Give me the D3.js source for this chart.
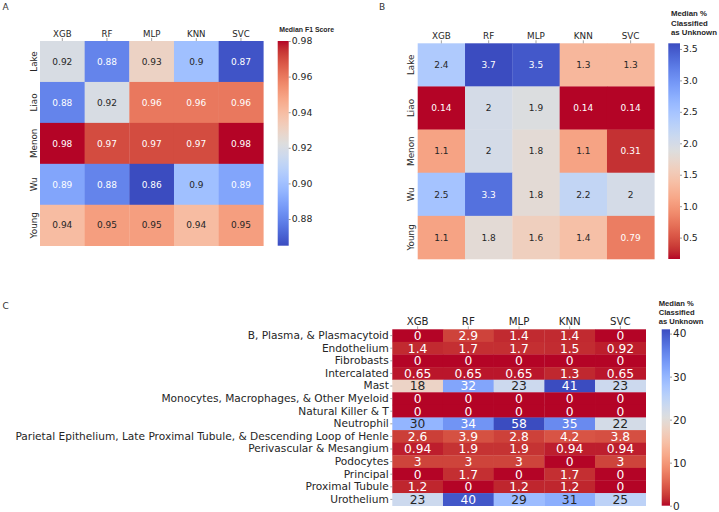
<!DOCTYPE html>
<html><head><meta charset="utf-8">
<script src="https://cdn.jsdelivr.net/npm/d3@7"></script>
<style>
body{margin:0;background:#fff}
svg{display:block;font-family:"DejaVu Sans",sans-serif}
</style>
</head><body>
<script>
// ---------------- DATA ----------------
const models = ["XGB", "RF", "MLP", "KNN", "SVC"];
const datasets = ["Lake", "Liao", "Menon", "Wu", "Young"];

// Panel A: median F1 score (rows = datasets, cols = models)
const f1Lake  = [0.92, 0.88, 0.93, 0.90, 0.867];
const f1Liao  = [0.88, 0.92, 0.96, 0.96, 0.96];
const f1Menon = [0.98, 0.97, 0.97, 0.97, 0.98];
const f1Wu    = [0.89, 0.88, 0.865, 0.90, 0.89];
const f1Young = [0.94, 0.95, 0.95, 0.94, 0.95];
const f1Ticks = [0.88, 0.90, 0.92, 0.94, 0.96, 0.98];

// Panel B: median % classified as unknown, per dataset
const unkLake  = [2.4, 3.7, 3.5, 1.3, 1.3];
const unkLiao  = [0.14, 2, 1.9, 0.14, 0.14];
const unkMenon = [1.1, 2, 1.8, 1.1, 0.31];
const unkWu    = [2.5, 3.3, 1.8, 2.2, 2];
const unkYoung = [1.1, 1.8, 1.6, 1.4, 0.79];
const unkTicks = [0.5, 1.0, 1.5, 2.0, 2.5, 3.0, 3.5];

// Panel C: median % classified as unknown, per cell type
const cellTypes = [
  "B, Plasma, & Plasmacytoid", "Endothelium", "Fibrobasts", "Intercalated", "Mast",
  "Monocytes, Macrophages, & Other Myeloid", "Natural Killer & T", "Neutrophil",
  "Parietal Epithelium, Late Proximal Tubule, & Descending Loop of Henle",
  "Perivascular & Mesangium", "Podocytes", "Principal", "Proximal Tubule", "Urothelium"
];
const ctBPlasma   = [0, 2.9, 1.4, 1.4, 0];
const ctEndo      = [1.4, 1.7, 1.7, 1.5, 0.92];
const ctFibro     = [0, 0, 0, 0, 0];
const ctInterc    = [0.65, 0.65, 0.65, 1.3, 0.65];
const ctMast      = [18, 32, 23, 41, 23];
const ctMono      = [0, 0, 0, 0, 0];
const ctNKT       = [0, 0, 0, 0, 0];
const ctNeutro    = [30, 34, 58, 35, 22];
const ctParietal  = [2.6, 3.9, 2.8, 4.2, 3.8];
const ctPeriv     = [0.94, 1.9, 1.9, 0.94, 0.94];
const ctPodo      = [3, 3, 3, 0, 3];
const ctPrincipal = [0, 1.7, 0, 1.7, 0];
const ctProxTub   = [1.2, 0, 1.2, 1.2, 0];
const ctUro       = [23, 40, 29, 31, 25];
const ctTicks = [0, 10, 20, 30, 40];

// coolwarm colormap control points (Moreland)
const coolwarmStops = [
 [59,76,192],[68,90,204],[77,104,215],[87,117,225],[98,130,234],[108,142,241],[119,154,247],
 [130,165,251],[141,176,254],[152,185,255],[163,194,255],[174,201,253],[184,208,249],[194,213,244],
 [204,217,238],[213,219,230],[221,221,221],[229,216,209],[236,211,197],[241,204,185],[245,196,173],
 [247,187,160],[247,177,148],[247,166,135],[244,154,123],[241,141,111],[236,127,99],[229,112,88],
 [222,96,77],[213,80,66],[203,62,56],[192,40,47],[180,4,38]
];

// ---------------- HELPERS ----------------
const coolwarm = d3.scaleLinear()
  .domain(coolwarmStops.map((_, i) => i / (coolwarmStops.length - 1)))
  .range(coolwarmStops.map(c => d3.rgb(c[0], c[1], c[2])))
  .interpolate(d3.interpolateRgb).clamp(true);

function lum(c) {
  const f = v => { v /= 255; return v <= 0.03928 ? v / 12.92 : Math.pow((v + 0.055) / 1.055, 2.4); };
  const r = d3.rgb(c);
  return 0.2126 * f(r.r) + 0.7152 * f(r.g) + 0.0722 * f(r.b);
}
const fmt = d3.format(".2~g");

const svg = d3.select("body").append("svg").attr("width", 719).attr("height", 512);

function heatmap(o) {
  const g = svg.append("g");
  const x = d3.scaleBand().domain(o.cols).range([o.x0, o.x1]);
  const y = d3.scaleBand().domain(o.rows).range([o.y0, o.y1]);
  const norm = d3.scaleLinear().domain(o.domain).range(o.reverse ? [1, 0] : [0, 1]).clamp(true);
  const color = v => coolwarm(norm(v));
  const cells = [];
  o.rows.forEach((r, i) => o.values[i].forEach((v, j) => cells.push({ r, c: o.cols[j], v })));
  g.selectAll("rect.cell").data(cells).join("rect")
    .attr("x", d => x(d.c)).attr("y", d => y(d.r))
    .attr("width", x.bandwidth() + 0.3).attr("height", y.bandwidth() + 0.3)
    .attr("fill", d => color(d.v));
  g.selectAll("text.ann").data(cells).join("text")
    .attr("x", d => x(d.c) + x.bandwidth() / 2)
    .attr("y", d => y(d.r) + y.bandwidth() / 2)
    .attr("dy", "0.36em").attr("text-anchor", "middle")
    .attr("font-size", o.annSize)
    .attr("fill", d => lum(color(d.v)) > 0.408 ? "#262626" : "#ffffff")
    .text(d => fmt(d.v));

  // column axis on top
  const ax = g.append("g").attr("transform", `translate(0,${o.y0})`)
    .call(d3.axisTop(x).tickSize(3).tickPadding(1));
  ax.select(".domain").remove();
  ax.selectAll("line").attr("stroke", "#666").attr("stroke-width", 0.6);
  ax.selectAll("text").attr("font-size", o.labSize).attr("fill", "#262626")
    .attr("font-family", "DejaVu Sans");

  // row axis on left
  const ay = g.append("g").attr("transform", `translate(${o.x0},0)`)
    .call(d3.axisLeft(y).tickSize(o.rotateRows ? 0 : 2).tickPadding(1.5));
  ay.select(".domain").remove();
  ay.selectAll("line").attr("stroke", "#666").attr("stroke-width", 0.6);
  const t = ay.selectAll("text").attr("font-size", o.rowSize).attr("fill", "#262626")
    .attr("font-family", "DejaVu Sans");
  if (o.rotateRows) {
    t.attr("transform", "rotate(-90)").attr("x", 0).attr("y", -3.5).attr("dy", 0)
      .attr("text-anchor", "middle");
  }

  // colorbar
  const cb = o.cbar;
  const gid = "grad" + Math.round(o.x0);
  const grad = svg.append("defs").append("linearGradient").attr("id", gid)
    .attr("x1", 0).attr("y1", 1).attr("x2", 0).attr("y2", 0);
  d3.range(0, 1.0001, 0.02).forEach(s => {
    const v = o.domain[0] + s * (o.domain[1] - o.domain[0]);
    grad.append("stop").attr("offset", s).attr("stop-color", color(v));
  });
  svg.append("rect").attr("x", cb.x0).attr("y", o.y0)
    .attr("width", cb.x1 - cb.x0).attr("height", o.y1 - o.y0)
    .attr("fill", `url(#${gid})`);
  const cy = d3.scaleLinear().domain(o.domain).range([o.y1, o.y0]);
  const ac = svg.append("g").attr("transform", `translate(${cb.x1},0)`)
    .call(d3.axisRight(cy).tickValues(o.ticks).tickFormat(o.tickFmt).tickSize(2).tickPadding(1));
  ac.select(".domain").remove();
  ac.selectAll("line").attr("stroke", "#555").attr("stroke-width", 0.6);
  ac.selectAll("text").attr("font-size", o.cbSize).attr("fill", "#262626")
    .attr("font-family", "DejaVu Sans");
  const title = svg.append("text").attr("font-family", "Liberation Sans, Arial, sans-serif")
    .attr("font-weight", "bold").attr("font-size", cb.titleSize).attr("fill", "#262626");
  cb.title.forEach((line, i) => {
    title.append("tspan").attr("x", cb.tx).attr("y", cb.ty + i * cb.lh).text(line);
  });
}

// Panel A
heatmap({
  cols: models, rows: datasets,
  values: [f1Lake, f1Liao, f1Menon, f1Wu, f1Young],
  x0: 40, x1: 263.3, y0: 41, y1: 245.7,
  domain: [0.865, 0.98], reverse: false,
  annSize: 9, labSize: 8.6, rowSize: 8.8, rotateRows: true,
  ticks: f1Ticks, tickFmt: d3.format(".2f"), cbSize: 9.3,
  cbar: { x0: 277.7, x1: 288.7, title: ["Median F1 Score"], tx: 279.3, ty: 31.7, lh: 9, titleSize: 6.9 }
});

// Panel B
heatmap({
  cols: models, rows: datasets,
  values: [unkLake, unkLiao, unkMenon, unkWu, unkYoung],
  x0: 417.7, x1: 654.3, y0: 43.3, y1: 259,
  domain: [0.16, 3.59], reverse: true,
  annSize: 9, labSize: 8.8, rowSize: 8.8, rotateRows: true,
  ticks: unkTicks, tickFmt: d3.format(".1f"), cbSize: 9.3,
  cbar: { x0: 668.3, x1: 680, title: ["Median %", "Classified", "as Unknown"], tx: 671, ty: 16, lh: 9.5, titleSize: 7.8 }
});

// Panel C
heatmap({
  cols: models, rows: cellTypes,
  values: [ctBPlasma, ctEndo, ctFibro, ctInterc, ctMast, ctMono, ctNKT, ctNeutro,
           ctParietal, ctPeriv, ctPodo, ctPrincipal, ctProxTub, ctUro],
  x0: 392.3, x1: 645.7, y0: 329.3, y1: 505.7,
  domain: [0, 41], reverse: true,
  annSize: 12.3, labSize: 10.2, rowSize: 10.6, rotateRows: false,
  ticks: ctTicks, tickFmt: d3.format("d"), cbSize: 10.5,
  cbar: { x0: 661.7, x1: 670, title: ["Median %", "Classified", "as Unknown"], tx: 658.7, ty: 305.7, lh: 9.2, titleSize: 7.6 }
});

// panel letters
[["A", 2.5, 10], ["B", 379, 10], ["C", 2.5, 309]].forEach(([s, x, y]) => {
  svg.append("text").attr("x", x).attr("y", y).attr("font-size", 9)
    .attr("fill", "#333").text(s);
});
</script>
</body></html>
